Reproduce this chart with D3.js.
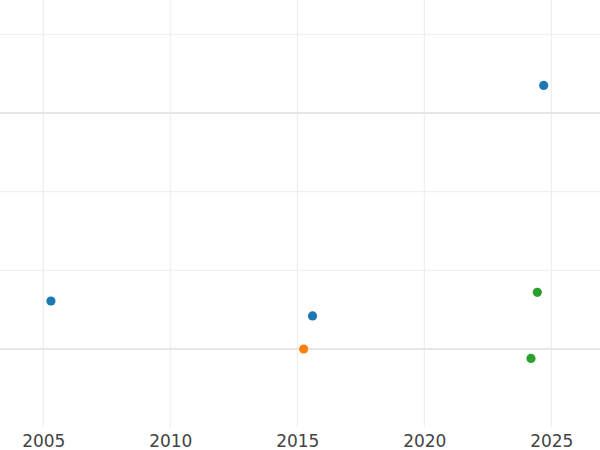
<!DOCTYPE html>
<html>
<head>
<meta charset="utf-8">
<script src="https://cdn.jsdelivr.net/npm/d3@7"></script>
<style>
  body { margin: 0; background: #fff; }
  svg { display: block; }
</style>
</head>
<body>
<svg id="chart" width="600" height="450"></svg>
<script>
// data
var years   = [2005.3, 2015.6, 2024.7, 2015.25, 2024.45, 2024.2];
var values  = [0.61, 0.42, 3.35, 0.0, 0.72, -0.12];
var groups  = ["a", "a", "a", "b", "c", "c"];
var groupNames  = ["a", "b", "c"];
var groupColors = ["#1f77b4", "#ff7f0e", "#2ca02c"];
var xTicks = [2005, 2010, 2015, 2020, 2025];
var yMajor = [0, 3];
var yMinor = [1, 2, 4];

function makeChart() {
    var svg = d3.select("#chart");
    var pxX = +svg.attr("width");
    var plotBottom = 427;

    var scX = d3.scaleLinear().domain([2005, 2025]).range([43.3, 551.3]);
    var scY = d3.scaleLinear().domain([0, 3]).range([349, 113]);
    var scC = d3.scaleOrdinal().domain(groupNames).range(groupColors);

    var data = years.map((d, i) => ({year: d, value: values[i], group: groups[i]}));

    var grid = svg.append("g");

    grid.selectAll("line.vx")
        .data(xTicks).enter().append("line")
        .attr("class", "vx")
        .attr("x1", d => scX(d)).attr("x2", d => scX(d))
        .attr("y1", 0).attr("y2", plotBottom)
        .attr("stroke", "#ebebeb").attr("stroke-width", 1);

    grid.selectAll("line.hmin")
        .data(yMinor).enter().append("line")
        .attr("class", "hmin")
        .attr("x1", 0).attr("x2", pxX)
        .attr("y1", d => scY(d)).attr("y2", d => scY(d))
        .attr("stroke", "#ededed").attr("stroke-width", 1);

    grid.selectAll("line.hmaj")
        .data(yMajor).enter().append("line")
        .attr("class", "hmaj")
        .attr("x1", 0).attr("x2", pxX)
        .attr("y1", d => scY(d)).attr("y2", d => scY(d))
        .attr("stroke", "#e6e6e6").attr("stroke-width", 2);

    var xAxis = svg.append("g")
        .attr("transform", "translate(0," + plotBottom + ")")
        .call(d3.axisBottom(scX).tickValues(xTicks).tickFormat(d3.format("d")).tickSize(0).tickPadding(8));
    xAxis.select(".domain").remove();
    xAxis.selectAll("text")
        .attr("fill", "#444")
        .style("font-family", "DejaVu Sans, sans-serif")
        .style("font-size", "17px");

    svg.append("g").selectAll("circle")
        .data(data).enter().append("circle")
        .attr("r", 4.6)
        .attr("fill", d => scC(d.group))
        .attr("cx", d => scX(d.year))
        .attr("cy", d => scY(d.value));
}

makeChart();
</script>
</body>
</html>
